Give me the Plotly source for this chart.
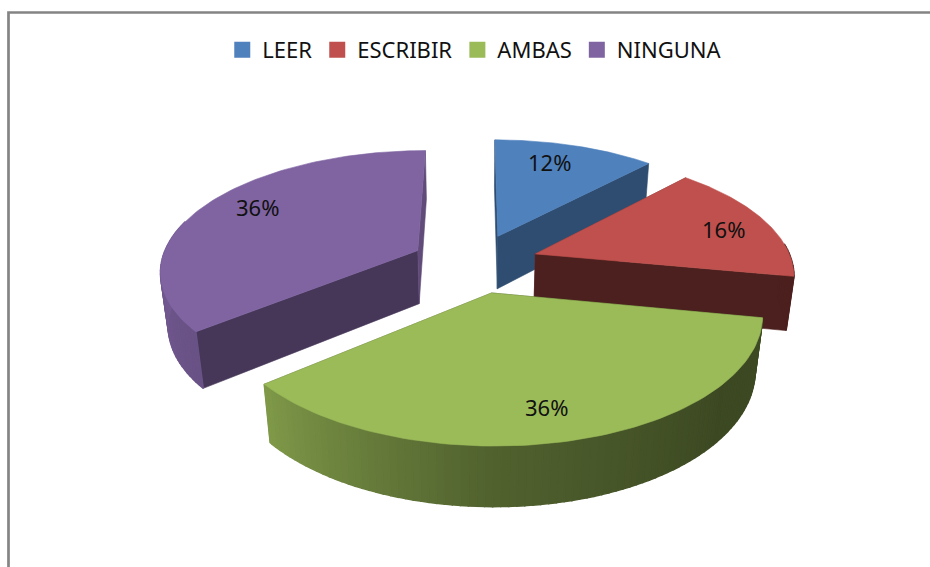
""" plot.py

Exploded 3D-looking pie, projected by hand since Plotly has no 3D pie.
"""
import numpy as np
import plotly.graph_objects as go

# Data #
categories = ["LEER", "ESCRIBIR", "AMBAS", "NINGUNA"]
shares = [12, 16, 36, 36]
colors = ["#4F81BD", "#C0504D", "#9BBB59", "#8064A2"]

# Style #
draw_order = [0, 3, 1, 2]  # back to front
label_shift = [(-10, -2), (9, 2), (-6, 4), (7, -7)]

# projection settings, in pixels of the 930x567 page
CX, CY = 475, 263
A, B = 257, 119
PERSPECTIVE = 0.155
DEPTH_TILT = 0.025
WALL = 55
EXPLODE = 0.25
LABEL_R = 0.78


def project(theta, radius, bisector, z=0.0):
    t = np.radians(theta)
    b = np.radians(bisector)
    x = radius * np.sin(t) + EXPLODE * np.sin(b)
    y = radius * np.cos(t) + EXPLODE * np.cos(b)
    w = 1 + PERSPECTIVE * y + DEPTH_TILT * z
    return CX + A * x / w, CY + (-B * y + WALL * z) / w


def shade(color, factor):
    rgb = [int(color[i:i + 2], 16) for i in (1, 3, 5)]
    return "rgb({},{},{})".format(*[int(c * factor) for c in rgb])


def wall_factor(theta):
    return np.interp(theta, [100, 130, 180, 230, 270, 360], [0.4, 0.39, 0.52, 0.82, 0.9, 0.9])


def cut_factor(theta):
    return np.interp(theta, [0, 43.2, 100.8, 230.4, 360], [0.6, 0.6, 0.4, 0.55, 0.75])


def add_poly(fig, xs, ys, color, width=0.6):
    fig.add_trace(go.Scatter(
        x=list(xs),
        y=list(ys),
        mode="lines",
        fill="toself",
        fillcolor=color,
        line=dict(color=color, width=width),
        hoverinfo="skip",
        showlegend=False,
    ))


fig = go.Figure()

edges = np.concatenate([[0], np.cumsum(shares)]) * 3.6
bisectors = (edges[:-1] + edges[1:]) / 2

for i in draw_order:
    start, end, mid, color = edges[i], edges[i + 1], bisectors[i], colors[i]

    # the two cut faces
    for theta in (start, end):
        x0, y0 = project(theta, 0, mid)
        x1, y1 = project(theta, 1, mid)
        x2, y2 = project(theta, 1, mid, 1)
        x3, y3 = project(theta, 0, mid, 1)
        add_poly(fig, [x0, x1, x2, x3, x0], [y0, y1, y2, y3, y0],
                 shade(color, cut_factor(theta)))

    # outer wall, only the part facing the viewer, in thin strips so that
    # the shading runs along it
    first, last = max(start, 85), min(end, 285)
    if first < last:
        steps = np.arange(first, last + 1.5, 1.5).clip(max=last)
        for a0, a1 in zip(steps[:-1], steps[1:]):
            x0, y0 = project(a0, 1, mid)
            x1, y1 = project(a1, 1, mid)
            x2, y2 = project(a1, 1, mid, 1)
            x3, y3 = project(a0, 1, mid, 1)
            add_poly(fig, [x0, x1, x2, x3, x0], [y0, y1, y2, y3, y0],
                     shade(color, wall_factor((a0 + a1) / 2)), width=1.5)

    # top face
    arc = np.linspace(start, end, 90)
    rim_x, rim_y = project(arc, 1, mid)
    apex_x, apex_y = project(start, 0, mid)
    add_poly(fig,
             np.concatenate([[apex_x], rim_x, [apex_x]]),
             np.concatenate([[apex_y], rim_y, [apex_y]]),
             color)

# percentage labels
for i, share in enumerate(shares):
    lx, ly = project(bisectors[i], LABEL_R, bisectors[i])
    fig.add_annotation(
        x=lx, y=ly,
        xshift=label_shift[i][0],
        yshift=-label_shift[i][1],
        text=f"{share}%",
        showarrow=False,
        font=dict(family="Noto Sans", size=22, color="#111111"),
    )

# legend entries
for name, color in zip(categories, colors):
    fig.add_trace(go.Scatter(
        x=[None],
        y=[None],
        mode="markers",
        name=name,
        marker=dict(symbol="square", size=16, color=color),
    ))

# frame of the chart area
fig.add_shape(
    type="path",
    path="M 8.5 600 L 8.5 12.5 L 960 12.5",
    line=dict(color="#848484", width=2.7),
)

fig.update_layout(
    width=930,
    height=567,
    margin=dict(l=0, r=0, t=0, b=0),
    paper_bgcolor="white",
    plot_bgcolor="white",
    showlegend=True,
    legend=dict(
        orientation="h",
        x=0.5105,
        xanchor="center",
        y=0.912,
        yanchor="middle",
        font=dict(family="Noto Sans", size=22, color="#111111"),
        itemsizing="trace",
        bgcolor="rgba(0,0,0,0)",
    ),
    xaxis=dict(range=[0, 930], visible=False, fixedrange=True),
    yaxis=dict(range=[567, 0], visible=False, fixedrange=True),
)

# drop the browser's default page margin so the chart sits at 0,0
fig.write_html(
    "out.html",
    config=dict(displayModeBar=False),
    post_script="document.body.style.margin = '0';",
)
